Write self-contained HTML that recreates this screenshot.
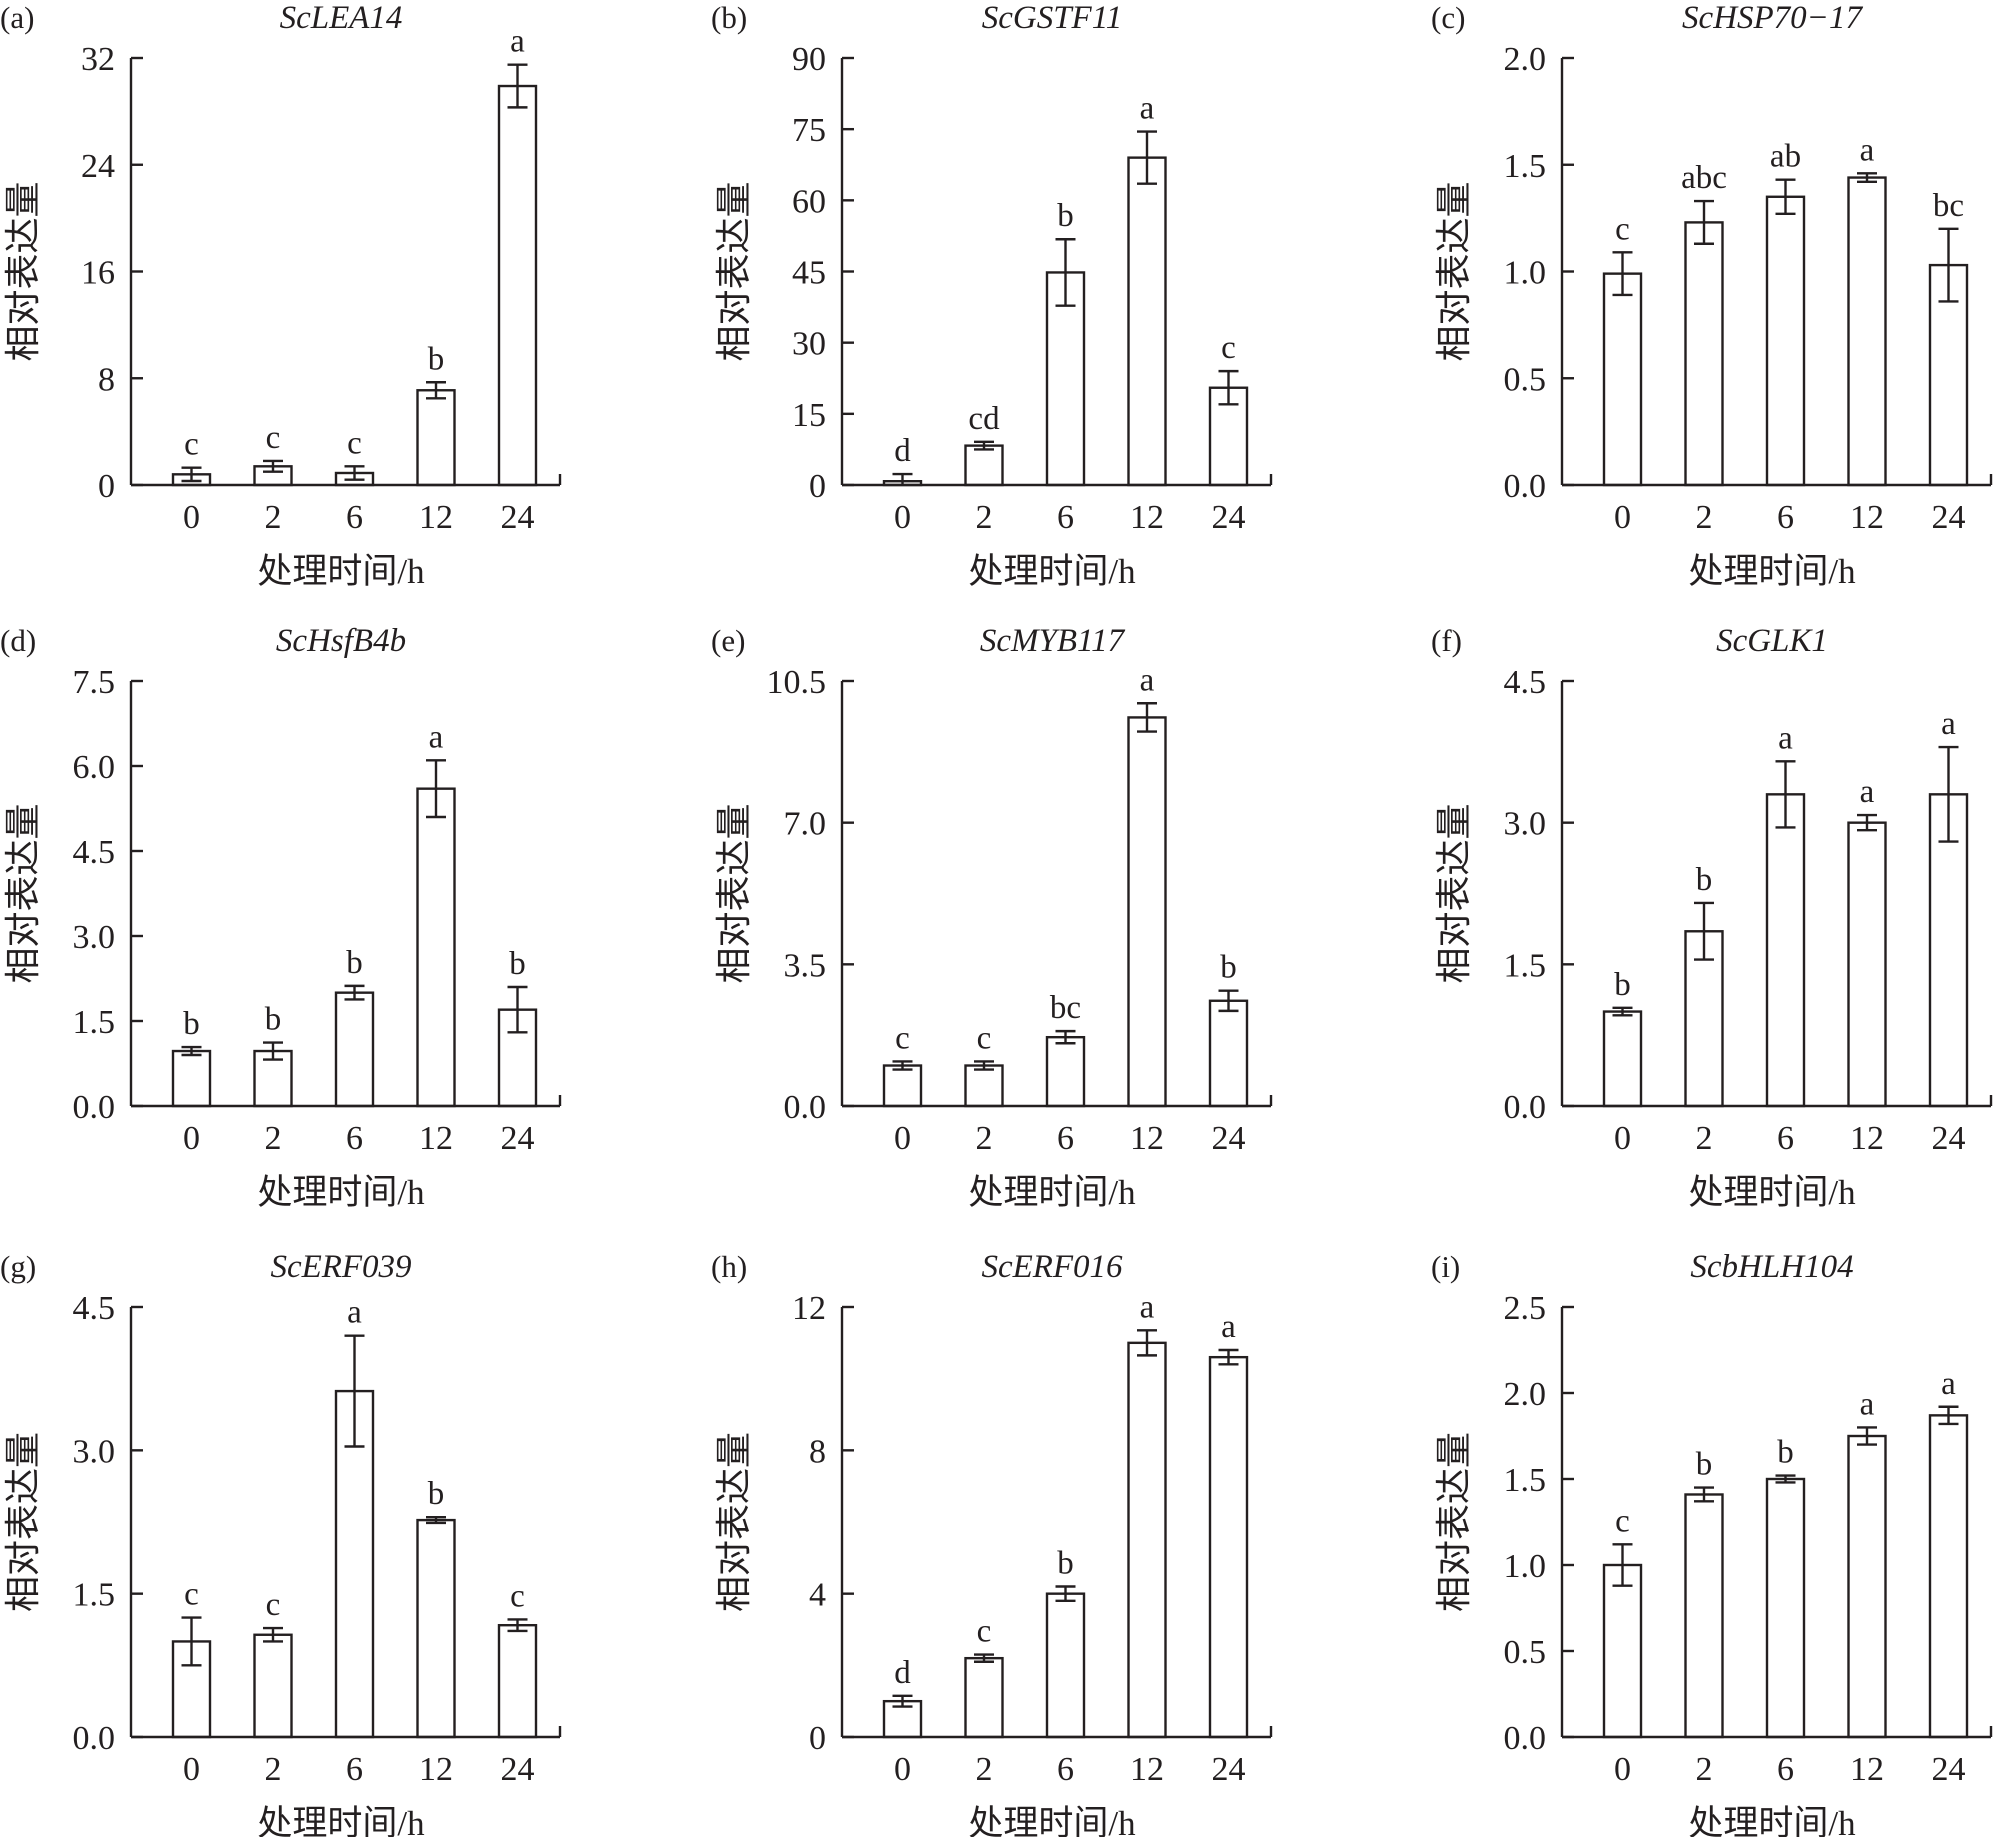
<!DOCTYPE html>
<html><head><meta charset="utf-8"><style>
html,body{margin:0;padding:0;background:#fff;width:2000px;height:1837px;overflow:hidden}
svg text{font-family:"Liberation Serif","Noto Serif CJK SC",serif;fill:#231f20}
</style></head><body>
<svg id="s" width="2000" height="1837" viewBox="0 0 2000 1837" xmlns="http://www.w3.org/2000/svg"></svg>
<script>
const P=[
{l:"(a)",t:"ScLEA14",max:32,ticks:["0","8","16","24","32"],v:[[0.8,0.5],[1.4,0.4],[0.9,0.5],[7.1,0.6],[29.9,1.6]],s:["c","c","c","b","a"]},
{l:"(b)",t:"ScGSTF11",max:90,ticks:["0","15","30","45","60","75","90"],v:[[0.8,1.5],[8.3,0.8],[44.8,7],[69,5.5],[20.5,3.5]],s:["d","cd","b","a","c"]},
{l:"(c)",t:"ScHSP70−17",max:2,ticks:["0.0","0.5","1.0","1.5","2.0"],v:[[0.99,0.1],[1.23,0.1],[1.35,0.08],[1.44,0.02],[1.03,0.17]],s:["c","abc","ab","a","bc"]},
{l:"(d)",t:"ScHsfB4b",max:7.5,ticks:["0.0","1.5","3.0","4.5","6.0","7.5"],v:[[0.97,0.07],[0.97,0.15],[2.0,0.12],[5.6,0.5],[1.7,0.4]],s:["b","b","b","a","b"]},
{l:"(e)",t:"ScMYB117",max:10.5,ticks:["0.0","3.5","7.0","10.5"],v:[[1.0,0.1],[1.0,0.1],[1.7,0.15],[9.6,0.35],[2.6,0.25]],s:["c","c","bc","a","b"]},
{l:"(f)",t:"ScGLK1",max:4.5,ticks:["0.0","1.5","3.0","4.5"],v:[[1.0,0.04],[1.85,0.3],[3.3,0.35],[3.0,0.08],[3.3,0.5]],s:["b","b","a","a","a"]},
{l:"(g)",t:"ScERF039",max:4.5,ticks:["0.0","1.5","3.0","4.5"],v:[[1.0,0.25],[1.07,0.07],[3.62,0.58],[2.27,0.03],[1.17,0.06]],s:["c","c","a","b","c"]},
{l:"(h)",t:"ScERF016",max:12,ticks:["0","4","8","12"],v:[[1.0,0.15],[2.2,0.1],[4.0,0.2],[11.0,0.35],[10.6,0.2]],s:["d","c","b","a","a"]},
{l:"(i)",t:"ScbHLH104",max:2.5,ticks:["0.0","0.5","1.0","1.5","2.0","2.5"],v:[[1.0,0.12],[1.41,0.04],[1.5,0.02],[1.75,0.05],[1.87,0.05]],s:["c","b","b","a","a"]}
];
const X=[131,842,1562],R=[[58,485],[681,1106],[1307,1737]],xs=["0","2","6","12","24"];
let h="";
const ln=(a,b,c,d,w)=>`<line x1="${a}" y1="${b}" x2="${c}" y2="${d}" stroke="#231f20" stroke-width="${w||2.4}"/>`;
const tx=(x,y,s,sz,a,ex)=>`<text x="${x}" y="${y}" font-size="${sz}" text-anchor="${a||'middle'}" ${ex||''}>${s}</text>`;
P.forEach((p,k)=>{
 const ax=X[k%3],[top,bot]=R[Math.floor(k/3)],H=bot-top,right=ax+429;
 const y=v=>bot-v/p.max*H;
 h+=tx(ax-131,top-30,p.l,31,"start");
 h+=tx(ax+210,top-30,p.t,33,"middle",'font-style="italic"');
 h+=ln(ax,top,ax,bot)+ln(ax,bot,right,bot)+ln(right,bot,right,bot-11);
 const n=p.ticks.length;
 p.ticks.forEach((t,i)=>{const yy=top+H*(n-1-i)/(n-1);h+=ln(ax,yy,ax+12,yy);h+=tx(ax-16,yy+12,t,34,"end");});
 h+=tx(ax-106,(top+bot)/2,"相对表达量",36,"middle",`transform="rotate(-90 ${ax-106} ${(top+bot)/2})" dominant-baseline="middle" style="font-family:'Noto Sans CJK SC',sans-serif"`);
 h+=tx(ax+210,bot+98,"处理时间/h",35,"middle",'style="font-family:\'Liberation Serif\',\'Noto Sans CJK SC\',serif"');
 p.v.forEach((d,i)=>{
  const cx=ax+60.5+i*81.5,yt=y(d[0]),ye1=y(d[0]+d[1]),ye2=y(d[0]-d[1]);
  h+=`<rect x="${cx-18.5}" y="${yt}" width="37" height="${bot-yt}" fill="none" stroke="#231f20" stroke-width="2.4"/>`;
  h+=ln(cx,ye1,cx,Math.min(ye2,bot))+ln(cx-10,ye1,cx+10,ye1)+(ye2<bot-2?ln(cx-10,ye2,cx+10,ye2):"");
  h+=tx(cx,bot+43,xs[i],34);
  h+=tx(cx,ye1-13,p.s[i],33);
 });
});
document.getElementById("s").innerHTML=h;
</script>
</body></html>
